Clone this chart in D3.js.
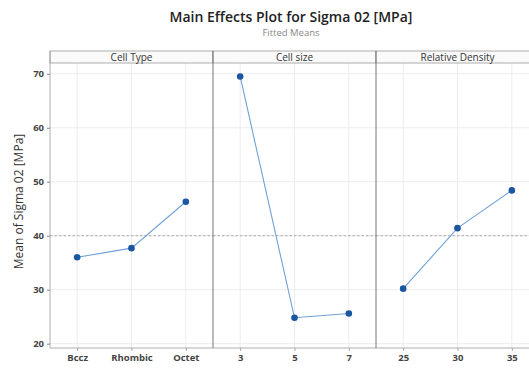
<!DOCTYPE html>
<html>
<head>
<meta charset="utf-8">
<script src="https://cdn.jsdelivr.net/npm/d3@7"></script>
<style>
  html, body { margin: 0; padding: 0; background: #fff; }
  svg { display: block; font-family: "Open Sans", "Noto Sans", sans-serif; }
</style>
</head>
<body>
<svg id="chart" width="529" height="369"></svg>
<script>
// Factor levels and fitted means for each main effect
const factors = ["Cell Type", "Cell size", "Relative Density"];
const cellTypeLevels = ["Bccz", "Rhombic", "Octet"];
const cellTypeMeans = [36.0, 37.7, 46.3];
const cellSizeLevels = ["3", "5", "7"];
const cellSizeMeans = [69.5, 24.8, 25.6];
const densityLevels = ["25", "30", "35"];
const densityMeans = [30.2, 41.4, 48.4];
const yTicks = [20, 30, 40, 50, 60, 70];
const grandMean = 40;

const panels = [
  { name: factors[0], levels: cellTypeLevels, means: cellTypeMeans },
  { name: factors[1], levels: cellSizeLevels, means: cellSizeMeans },
  { name: factors[2], levels: densityLevels, means: densityMeans }
];

const svg = d3.select("#chart");
const left = 50, panelW = 163, stripTop = 51, stripH = 12, bottom = 348;
const plotTop = stripTop + stripH;

const y = d3.scaleLinear().domain([19.2, 72.0]).range([bottom, plotTop]);

// Titles
svg.append("text").attr("x", 291).attr("y", 22).attr("text-anchor", "middle")
  .attr("font-size", 14).attr("font-weight", 600).attr("fill", "#222")
  .text("Main Effects Plot for Sigma 02 [MPa]");
svg.append("text").attr("x", 291).attr("y", 36).attr("text-anchor", "middle")
  .attr("font-size", 9.5).attr("fill", "#8a8a8a")
  .text("Fitted Means");

// Y axis label
svg.append("text")
  .attr("transform", `translate(23,${(plotTop + bottom) / 2 - 4}) rotate(-90)`)
  .attr("text-anchor", "middle").attr("font-size", 12).attr("fill", "#333")
  .text("Mean of Sigma 02 [MPa]");

// Y axis with ticks and labels
const yAxis = svg.append("g").attr("transform", `translate(${left},0)`)
  .call(d3.axisLeft(y).tickValues(yTicks).tickSize(3).tickPadding(3));
yAxis.select(".domain").remove();
yAxis.selectAll(".tick line").attr("stroke", "#888");
yAxis.selectAll(".tick text").attr("font-size", 9.5).attr("font-weight", 700)
  .attr("fill", "#444").attr("font-family", "'Open Sans', sans-serif");

panels.forEach((p, i) => {
  const x0 = left + i * panelW;
  const g = svg.append("g").attr("transform", `translate(${x0},0)`);
  const x = d3.scalePoint().domain(p.levels).range([0, panelW]).padding(0.5);

  // gridlines
  g.selectAll("line.hg").data(yTicks).join("line").attr("class", "hg")
    .attr("x1", 0).attr("x2", panelW).attr("y1", d => y(d)).attr("y2", d => y(d))
    .attr("stroke", "#ececec").attr("stroke-width", 1);
  g.selectAll("line.vg").data(p.levels).join("line").attr("class", "vg")
    .attr("x1", d => x(d)).attr("x2", d => x(d)).attr("y1", plotTop).attr("y2", bottom)
    .attr("stroke", "#ececec").attr("stroke-width", 1);

  // reference line at the grand mean
  g.append("line").attr("x1", 0).attr("x2", panelW)
    .attr("y1", y(grandMean)).attr("y2", y(grandMean))
    .attr("stroke", "#9a9a9a").attr("stroke-width", 0.8).attr("stroke-dasharray", "2.5,2");

  // strip header
  g.append("rect").attr("x", 0).attr("y", stripTop).attr("width", panelW).attr("height", stripH)
    .attr("fill", "#fafafa").attr("stroke", "#9a9a9a").attr("stroke-width", 0.8);
  g.append("text").attr("x", panelW / 2).attr("y", stripTop + 9.5).attr("text-anchor", "middle")
    .attr("font-size", 10).attr("fill", "#333").text(p.name);

  // mean line and points
  const data = p.levels.map((l, k) => ({ l, v: p.means[k] }));
  g.append("path").datum(data)
    .attr("d", d3.line().x(d => x(d.l)).y(d => y(d.v)))
    .attr("fill", "none").attr("stroke", "#6fa1d6").attr("stroke-width", 1.1);
  g.selectAll("circle").data(data).join("circle")
    .attr("cx", d => x(d.l)).attr("cy", d => y(d.v)).attr("r", 3.3)
    .attr("fill", "#1b56a0");

  // x axis labels
  const xa = g.append("g").attr("transform", `translate(0,${bottom})`)
    .call(d3.axisBottom(x).tickSize(3).tickPadding(3));
  xa.select(".domain").remove();
  xa.selectAll(".tick line").attr("stroke", "#aaa");
  xa.selectAll(".tick text").attr("font-size", 9.5).attr("font-weight", 700)
    .attr("fill", "#444").attr("font-family", "'Open Sans', sans-serif");
});

// panel frames
svg.append("line").attr("x1", left).attr("x2", left + 3 * panelW)
  .attr("y1", bottom).attr("y2", bottom).attr("stroke", "#999").attr("stroke-width", 0.8);
[0, 1, 2, 3].forEach(i => {
  svg.append("line").attr("x1", left + i * panelW).attr("x2", left + i * panelW)
    .attr("y1", stripTop).attr("y2", bottom)
    .attr("stroke", i === 0 ? "#999" : "#777").attr("stroke-width", i === 0 ? 0.8 : 1);
});
</script>
</body>
</html>
